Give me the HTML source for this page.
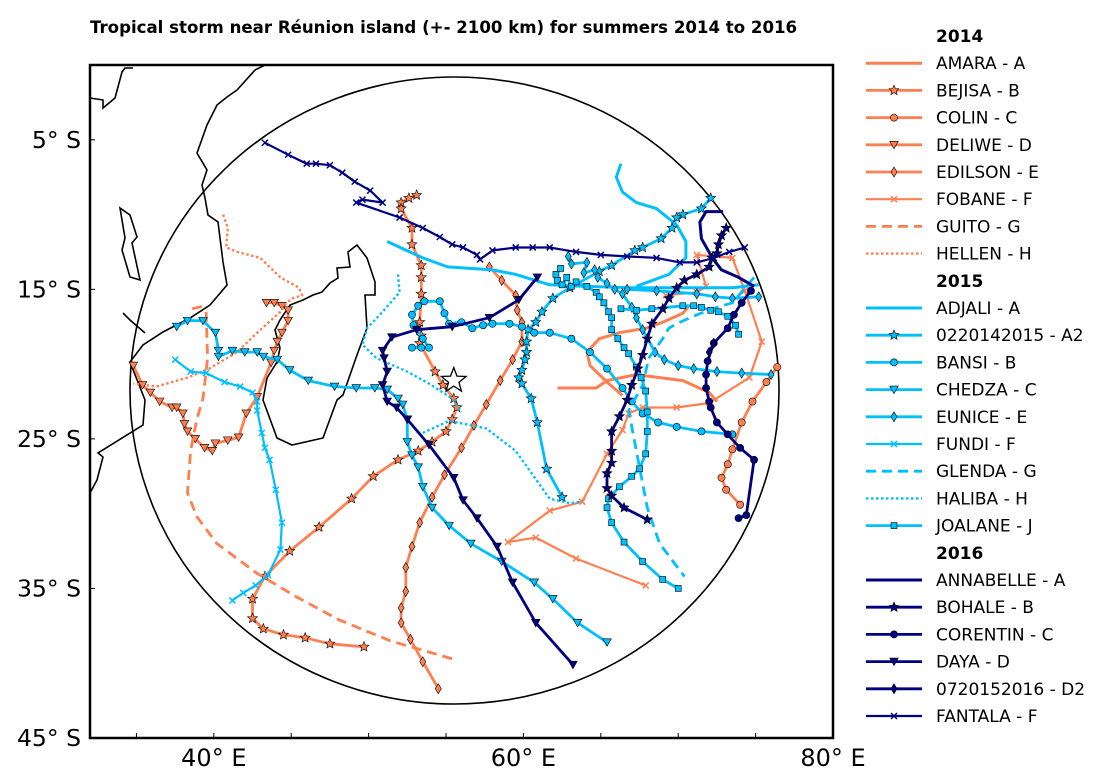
<!DOCTYPE html>
<html><head><meta charset="utf-8">
<style>
html,body{margin:0;padding:0;background:#fff;}
svg{display:block;font-family:"DejaVu Sans","Liberation Sans",sans-serif;}
</style></head>
<body>
<svg id="chart" width="1115" height="782" viewBox="0 0 1115 782" xmlns="http://www.w3.org/2000/svg">
<text x="90" y="33" font-size="16.6" font-weight="bold" font-family="DejaVu Sans, Liberation Sans, sans-serif">Tropical storm near Réunion island (+- 2100 km) for summers 2014 to 2016</text>
<g id="map"></g>
<g id="legend"></g>
</svg>
<script>
// Storm tracks: arrays of longitude (°E) and latitude (°S); null splits a track into segments
const amaraLon=[62.2,64.7,65.4,67.3,70.3,72.0,72.5,null,70.7,70.3,69.0,67.9,66.2,64.9,64.1,64.3,65.4,66.4];
const amaraLat=[21.6,21.6,21.1,20.7,21.1,21.9,22.5,null,16.1,16.6,17.2,17.6,17.9,18.3,19.2,20.1,21.2,22.1];
const bejisaLon=[53.1,52.6,52.1,52.1,52.8,52.8,53.4,53.4,53.4,53.3,53.4,53.3,54.3,54.8,55.5,55.7,55.4,55.0,54.1,53.2,51.9,50.3,48.9,46.8,44.9,43.3,42.5,42.5,43.2,44.5,45.9,47.5,49.7];
const bejisaLat=[8.7,8.9,9.2,9.6,10.9,12.0,13.4,14.2,15.3,17.2,18.1,18.6,20.5,21.4,22.3,22.9,23.7,24.5,25.2,25.8,26.4,27.5,29.0,30.9,32.5,34.2,35.7,37.0,37.7,38.1,38.3,38.7,38.9];
const colinLon=[76.4,75.7,74.8,74.1,73.5,73.2,72.8,73.1,74.0];
const colinLat=[20.2,21.2,22.5,23.9,25.7,26.7,27.6,28.4,29.4];
const deliweLon=[34.8,35.4,35.9,36.5,37.3,37.6,38.0,38.1,38.3,38.8,39.4,39.9,40.1,40.9,41.6,42.1,42.8,43.7,43.9,44.1,44.4,44.8,44.8,44.4,43.9,43.4];
const deliweLat=[20.1,21.4,21.9,22.5,22.9,22.9,23.3,24.0,24.5,25.0,25.6,25.8,25.3,25.1,24.9,23.3,22.2,19.9,19.1,18.5,17.9,17.1,16.4,16.1,15.9,15.9];
const edilsonLon=[57.8,58.6,59.5,59.6,59.9,59.9,59.3,58.5,57.6,56.8,56.0,54.9,54.1,53.3,52.8,52.4,52.4,52.1,52.1,52.7,53.5,54.5];
const edilsonLat=[13.5,14.4,15.4,16.4,17.2,18.5,19.7,21.1,22.7,24.1,25.6,27.4,28.9,30.6,32.2,33.6,35.2,36.3,37.3,38.4,39.9,41.7];
const fobaneLon=[69.2,71.2,71.8,71.2,73.5,74.3,75.4,74.6,72.0,69.9,67.7,66.8,66.4,65.4,63.8,61.7,59.0,60.8,63.4,67.9];
const fobaneLat=[15.4,15.2,14.8,12.7,12.9,15.1,18.5,20.9,22.6,22.9,22.9,23.3,24.4,26.0,29.2,29.8,31.9,31.6,33.0,34.8];
const guitoLon=[38.6,39.4,null,39.5,39.6,39.3,38.9,38.5,38.3,38.9,40.2,42.8,45.4,48.1,51.4,55.7];
const guitoLat=[16.3,16.1,null,16.5,19.6,22.3,23.7,25.8,28.6,30.2,32.0,34.0,35.6,37.1,38.5,39.8];
const hellenLon=[40.6,40.9,40.8,41.5,43.0,44.3,45.5,45.7,45.1,44.7,44.3,42.8,41.5,39.7,38.3,36.3,34.8];
const hellenLat=[10.0,10.9,12.2,12.5,12.9,14.2,14.9,15.4,15.6,15.9,16.5,17.9,19.2,20.3,20.9,21.5,21.3];
const adjaliLon=[51.2,53.5,55.1,58.0,59.5,61.7,63.8,67.0,70.3,73.5,75.2,null,66.3,66.0,66.4,67.3,68.6,69.9,70.5,70.5,69.4,67.3];
const adjaliLat=[11.8,12.9,13.5,13.7,14.0,14.7,14.8,14.9,14.9,14.9,14.7,null,6.6,7.5,8.5,9.2,9.6,10.7,11.8,12.9,14.0,14.8];
const a2Lon=[72.1,71.5,70.3,69.9,69.6,68.9,67.7,67.2,65.7,64.9,63.0,61.9,61.2,60.8,60.3,60.2,60.2,60.1,59.9,59.7,59.9,60.5,60.9,61.5,62.5];
const a2Lat=[8.9,9.6,10.0,10.2,10.9,11.6,12.2,12.4,13.4,13.8,14.9,15.6,16.5,17.2,17.7,18.5,19.2,19.7,20.4,20.9,21.3,22.3,23.9,27.0,28.9];
const bansiLon=[52.8,53.4,53.9,53.5,52.9,52.8,53.2,53.6,54.6,54.9,55.2,56.0,56.7,57.4,58.0,59.1,59.9,60.7,61.7,63.1,64.3,65.4,66.4,67.0,67.7,68.7,69.9,71.5,73.5];
const bansiLat=[18.9,18.9,18.9,18.3,17.4,16.7,16.1,15.8,15.8,16.6,17.3,17.2,17.6,17.4,17.3,17.3,17.5,17.9,17.9,18.3,19.2,20.3,21.6,22.5,23.3,23.9,24.2,24.5,24.7];
const chedzaLon=[37.6,38.3,39.3,40.1,40.3,40.3,41.2,42.0,42.8,43.2,44.1,44.9,46.1,47.8,49.2,50.4,51.2,51.9,52.2,52.5,52.5,52.8,53.2,53.5,54.1,55.2,56.6,58.6,60.7,61.9,63.5,65.4];
const chedzaLat=[17.5,17.1,17.1,17.9,19.1,19.5,19.1,19.2,19.2,19.5,19.7,20.4,21.1,21.5,21.6,21.6,21.7,22.3,22.7,23.7,25.2,26.1,26.9,28.2,29.6,30.8,32.0,33.2,34.6,35.7,37.3,38.6];
const euniceLon=[62.9,63.1,64.1,63.9,64.6,64.8,65.4,65.9,66.4,67.0,67.3,67.7,68.5,69.1,70.0,71.0,72.5,74.1,76.0,null,66.7,68.6,71.2,72.4,73.5,75.2];
const euniceLat=[12.8,13.3,13.2,13.9,13.7,14.2,14.6,15.0,15.3,16.2,16.9,17.7,19.2,19.7,20.1,20.3,20.5,20.6,20.7,null,15.0,15.1,15.3,15.5,15.6,15.5];
const fundiLon=[37.5,38.5,39.5,40.7,41.7,42.5,42.8,42.8,43.1,43.3,43.6,44.0,44.4,44.3,43.5,42.7,41.9,41.2];
const fundiLat=[19.7,20.5,20.6,21.2,21.5,21.9,22.5,23.1,24.6,25.6,26.4,28.4,30.6,32.4,34.1,34.8,35.3,35.8];
const glendaLon=[74.9,73.5,72.5,71.2,69.9,69.4,69.0,68.1,67.7,66.8,67.5,68.0,68.8,70.4];
const glendaLat=[14.2,15.9,16.2,16.7,17.3,17.6,18.3,19.6,21.4,23.1,26.9,29.6,32.0,34.2];
const halibaLon=[51.9,52.0,50.9,49.9,49.6,50.5,52.5,53.9,55.4,56.0,null,53.5,55.2,57.6,59.5,61.7,63.0,63.8];
const halibaLat=[14.0,15.2,16.5,17.6,18.7,19.6,20.5,21.3,22.3,23.2,null,24.6,23.8,24.3,25.8,29.0,29.3,29.2];
const joalaneLon=[62.4,62.1,62.2,62.5,62.8,63.1,63.4,64.1,64.7,64.9,65.2,65.5,65.7,65.7,66.1,66.5,66.8,67.3,67.6,67.9,68.0,68.0,67.9,67.5,67.0,66.2,65.5,65.4,65.7,66.5,67.7,69.0,70.0,null,73.9,73.7,73.2,72.6,72.1,71.5,71.0,70.3,68.3,67.3,66.3];
const joalaneLat=[13.6,14.0,14.4,14.7,14.2,14.8,14.5,14.8,15.2,15.5,15.9,16.5,16.9,17.7,18.3,18.9,19.3,20.2,20.9,21.8,23.2,24.5,26.0,27.0,27.5,28.2,29.0,29.6,30.6,31.9,33.2,34.4,35.0,null,18.0,17.4,16.8,16.5,16.4,16.2,16.1,16.1,16.3,16.4,16.3];
const annabelleLon=[72.9,71.8,71.4,71.5,72.2,72.8,73.9,74.9];
const annabelleLat=[9.8,9.8,10.5,11.6,12.9,13.7,14.2,14.8];
const bohaleLon=[73.1,72.8,72.6,72.5,72.2,72.0,71.2,70.4,69.9,69.4,69.0,68.3,68.0,67.7,67.4,67.0,66.7,66.2,65.7,65.7,65.7,65.4,65.4,65.7,66.5,68.0];
const bohaleLat=[10.9,11.4,12.0,12.6,12.9,13.5,14.0,14.4,14.9,15.6,16.3,17.3,18.3,19.4,20.3,21.4,22.4,23.5,24.5,25.8,26.6,27.3,28.3,28.8,29.6,30.4];
const corentinLon=[74.7,74.1,73.6,73.2,72.3,71.9,71.8,71.8,72.0,72.1,72.5,73.2,74.0,74.9,74.4,73.9];
const corentinLat=[15.1,15.9,16.7,17.6,18.6,19.8,20.7,21.6,22.5,22.9,23.9,24.7,25.6,26.4,30.1,30.3];
const dayaLon=[60.9,59.7,57.8,55.4,53.1,51.5,50.9,51.0,51.2,50.9,51.2,51.8,52.5,53.9,55.5,56.1,57.0,58.3,59.3,60.8,63.2];
const dayaLat=[14.2,15.7,16.9,17.5,17.7,18.2,19.1,19.6,20.5,21.4,22.5,22.9,23.7,25.4,27.6,29.1,30.3,32.2,34.6,37.3,40.1];
const d2Lon=[72.3,72.0];
const d2Lat=[18.6,19.2];
const fantalaLon=[43.3,44.8,46.0,46.6,47.5,48.3,49.1,50.1,50.9,49.6,49.2,52.0,53.5,54.6,55.4,56.1,57.0,57.2,58.0,59.5,60.6,61.7,63.4,65.0,66.7,68.6,70.1,71.2,72.3,73.3,74.3];
const fantalaLat=[5.2,6.0,6.6,6.6,6.7,7.2,7.8,8.4,9.2,9.0,9.2,10.2,10.9,11.5,12.0,12.2,12.7,13.0,12.4,12.2,12.2,12.2,12.5,12.7,12.8,12.9,13.2,13.2,12.9,12.5,12.2];

const yearLabels=['2014','2015','2016'];
const stormNames=[
 ['AMARA - A','BEJISA - B','COLIN - C','DELIWE - D','EDILSON - E','FOBANE - F','GUITO - G','HELLEN - H'],
 ['ADJALI - A','0220142015 - A2','BANSI - B','CHEDZA - C','EUNICE - E','FUNDI - F','GLENDA - G','HALIBA - H','JOALANE - J'],
 ['ANNABELLE - A','BOHALE - B','CORENTIN - C','DAYA - D','0720152016 - D2','FANTALA - F']];
const latTicks=[5,15,25,35,45];
const lonTickLabels=[40,60,80];
const lonMinorTicks=[35,40,45,50,55,60,65,70,75];

const NS='http://www.w3.org/2000/svg';
const X0=90,X1=833,Y0=65,Y1=738,LON0=32,LON1=80,LAT0=0,LAT1=45;
function xs(lon){return X0+(lon-LON0)/(LON1-LON0)*(X1-X0);}
function ys(lat){return Y0+(lat-LAT0)/(LAT1-LAT0)*(Y1-Y0);}
function mk(tag,attrs,parent){const e=document.createElementNS(NS,tag);for(const k in attrs)e.setAttribute(k,attrs[k]);parent.appendChild(e);return e;}
const map=document.getElementById('map');
const leg=document.getElementById('legend');
const C14='#ff7f50',C15='#00bfff',C16='#000080';

const coasts=[
 'M265,65 L255,70 L237,90 L227,97 L217,105 L207,125 L197,153 L207,170 L202,185 L205,198 L208,215 L218,222 L220,238 L223,262 L227,285 L210,305 L190,318 L163,332 L143,345 L130,362 L145,400 L143,425 L98,453 L103,457 L97,480 L90,493',
 'M90,98 L103,100 L103,108 L115,98 L122,72 L125,68 L133,68',
 'M123,313 L130,320 L145,333',
 'M357,245 L348,252 L350,267 L337,268 L338,278 L330,283 L322,292 L313,295 L303,300 L290,305 L280,320 L275,330 L280,348 L277,362 L267,378 L263,400 L277,438 L292,445 L323,438 L337,400 L343,395 L357,355 L367,328 L365,295 L375,295 L375,282 L367,258 Z',
 'M120,208 L130,215 L137,237 L132,243 L140,280 L130,277 L122,250 L125,238 Z'];
coasts.forEach(d=>{
 const p=mk('path',{d:d,fill:'none',stroke:'#000','stroke-width':1.6},map);
 
 
});
const circ=mk('ellipse',{cx:454.5,cy:390.5,rx:324.5,ry:313.5,fill:'none',stroke:'#000','stroke-width':1.6},map);



function starPts(cx,cy,R,r){let s=[];for(let i=0;i<10;i++){const a=-Math.PI/2+i*Math.PI/5;const rr=i%2?r:R;s.push((cx+rr*Math.cos(a)).toFixed(1)+','+(cy+rr*Math.sin(a)).toFixed(1));}return s.join(' ');}
function marker(type,x,y,color,parent){
 let e;
 if(type==='star')e=mk('polygon',{points:starPts(x,y,5.2,2.3),fill:color,stroke:'#000','stroke-width':0.6},parent);
 else if(type==='circle')e=mk('circle',{cx:x,cy:y,r:3.6,fill:color,stroke:'#000','stroke-width':0.6},parent);
 else if(type==='tri')e=mk('polygon',{points:`${x-4.3},${y-3.5} ${x+4.3},${y-3.5} ${x},${y+4}`,fill:color,stroke:'#000','stroke-width':0.6},parent);
 else if(type==='diamond')e=mk('polygon',{points:`${x},${y-5} ${x+3},${y} ${x},${y+5} ${x-3},${y}`,fill:color,stroke:'#000','stroke-width':0.6},parent);
 else if(type==='square')e=mk('rect',{x:x-3,y:y-3,width:6,height:6,fill:color,stroke:'#000','stroke-width':0.6},parent);
 else if(type==='x')e=mk('path',{d:`M${x-3},${y-3}L${x+3},${y+3}M${x-3},${y+3}L${x+3},${y-3}`,stroke:color,'stroke-width':1.5},parent);
 else return;
 
 
}
const styles=[
 [amaraLon,amaraLat,C14,'none','',3],[bejisaLon,bejisaLat,C14,'star','',2.8],[colinLon,colinLat,C14,'circle','',2.8],
 [deliweLon,deliweLat,C14,'tri','',2.8],[edilsonLon,edilsonLat,C14,'diamond','',2.8],[fobaneLon,fobaneLat,C14,'x','',2.2],
 [guitoLon,guitoLat,C14,'none','10,6',2.8],[hellenLon,hellenLat,C14,'none','2.5,2.5',2.4],
 [adjaliLon,adjaliLat,C15,'none','',3],[a2Lon,a2Lat,C15,'star','',2.8],[bansiLon,bansiLat,C15,'circle','',2.8],
 [chedzaLon,chedzaLat,C15,'tri','',2.8],[euniceLon,euniceLat,C15,'diamond','',2.8],[fundiLon,fundiLat,C15,'x','',2.2],
 [glendaLon,glendaLat,C15,'none','10,6',2.8],[halibaLon,halibaLat,C15,'none','2.5,2.5',2.4],[joalaneLon,joalaneLat,C15,'square','',2.8],
 [annabelleLon,annabelleLat,C16,'none','',3],[bohaleLon,bohaleLat,C16,'star','',2.8],[corentinLon,corentinLat,C16,'circle','',2.8],
 [dayaLon,dayaLat,C16,'tri','',2.8],[d2Lon,d2Lat,C16,'diamond','',2.8],[fantalaLon,fantalaLat,C16,'x','',2.2]];
const allNames=[].concat(...stormNames);
styles.forEach((s,i)=>{
 const [lo,la,col,mt,dash,w]=s;
 const g=mk('g',{},map);
 
 
 let d='',pen=false;
 for(let k=0;k<lo.length;k++){
  if(lo[k]===null){pen=false;continue;}
  d+=(pen?'L':'M')+xs(lo[k]).toFixed(1)+','+ys(la[k]).toFixed(1);pen=true;
 }
 const a={d:d,fill:'none',stroke:col,'stroke-width':w,'stroke-linejoin':'round'};
 if(dash)a['stroke-dasharray']=dash;
 const p=mk('path',a,g);
 
 
 for(let k=0;k<lo.length;k++){if(lo[k]!==null)marker(mt,xs(lo[k]),ys(la[k]),col,g);}
});
const rs=mk('polygon',{points:starPts(xs(55.5),ys(21.1),13,5.5),fill:'#fff',stroke:'#000','stroke-width':1.3},map);



const fr=mk('rect',{x:X0,y:Y0,width:X1-X0,height:Y1-Y0,fill:'none',stroke:'#000','stroke-width':2.5},map);


latTicks.forEach(t=>{
 const y=ys(t);
 const l=mk('line',{x1:X0,x2:X0+5,y1:y,y2:y,stroke:'#000','stroke-width':1},map);
 
 
 const tx=mk('text',{x:81,y:y+8,'text-anchor':'end','font-size':23.5},map);
 tx.textContent=t+'° S';
 
 
});
lonMinorTicks.forEach(t=>{
 const x=xs(t);
 const l=mk('line',{x1:x,x2:x,y1:Y1,y2:Y1-5,stroke:'#000','stroke-width':1},map);
 
 
});
lonTickLabels.forEach(t=>{
 const tx=mk('text',{x:xs(t),y:766,'text-anchor':'middle','font-size':24},map);
 tx.textContent=t+'° E';
 
 
});

let row=0;const LY0=36,LSTEP=27.2;
let si=0;
yearLabels.forEach((yl,yi)=>{
 const h=mk('text',{x:936,y:LY0+row*LSTEP+6,'font-size':17,'font-weight':'bold'},leg);
 h.textContent=yl;
 
 
 row++;
 stormNames[yi].forEach(n=>{
  const s=styles[si];const y=LY0+row*LSTEP;
  const g=mk('g',{},leg);
  
  
  const a={x1:866,x2:922,y1:y,y2:y,stroke:s[2],'stroke-width':s[5]};
  if(s[4])a['stroke-dasharray']=s[4];
  mk('line',a,g);
  marker(s[3],894,y,s[2],g);
  const t=mk('text',{x:936,y:y+6,'font-size':17},g);
  t.textContent=n;
  si++;row++;
 });
});
</script>
</body></html>
